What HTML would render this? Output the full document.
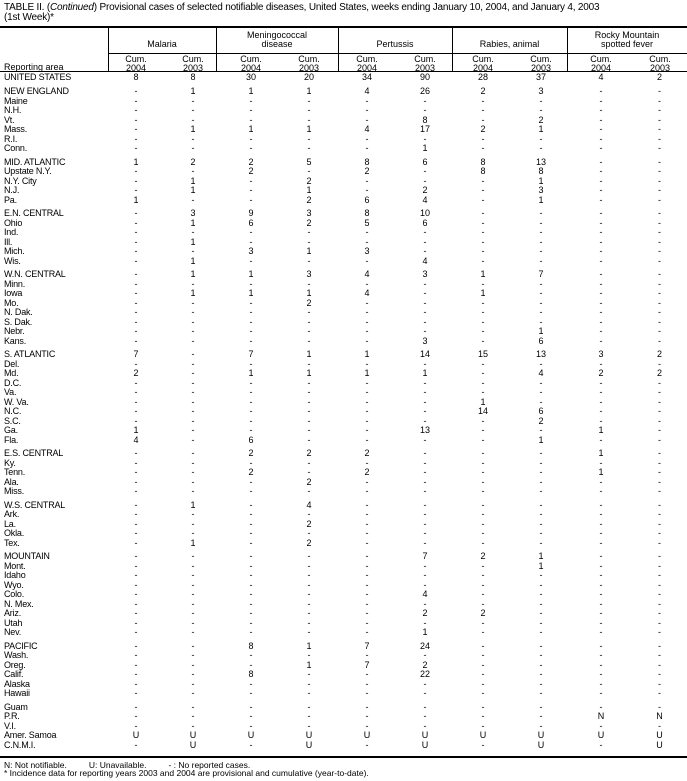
<!DOCTYPE html>
<html><head><meta charset="utf-8"><style>
*{margin:0;padding:0;box-sizing:border-box}
body{width:687px;height:781px;background:#fff;font-family:"Liberation Sans",Arial,sans-serif;color:#000;position:relative;overflow:hidden}
.t{position:absolute;left:4px;font-size:10px;line-height:10px;white-space:nowrap;letter-spacing:-0.2px}
.hl{position:absolute;background:#000}
.h{position:absolute;font-size:9px;line-height:8.5px;text-align:center;white-space:nowrap}
#rows{position:absolute;left:0;top:73px;width:687px}
.r{display:grid;grid-template-columns:108px 56px 58px 58px 58px 58px 58px 58px 58px 62px 55px;height:9.5px;line-height:9.5px;font-size:9px}
.r.g{margin-top:4px}
.r b{font-weight:normal;padding-left:4px;white-space:nowrap;letter-spacing:-0.2px}
.r i{font-style:normal;text-align:center}
.f{position:absolute;left:4px;font-size:8.5px;line-height:9px;white-space:nowrap}
</style></head><body>
<div class="t" style="top:3px">TABLE II. (<i>Continued</i>) Provisional cases of selected notifiable diseases, United States, weeks ending January 10, 2004, and January 4, 2003</div>
<div class="t" style="top:13px">(1st Week)*</div>
<div class="hl" style="left:0;top:26px;width:687px;height:2px"></div>
<div class="hl" style="left:108px;top:28px;width:1px;height:44px"></div>
<div class="hl" style="left:216px;top:28px;width:1px;height:44px"></div>
<div class="hl" style="left:338px;top:28px;width:1px;height:44px"></div>
<div class="hl" style="left:452px;top:28px;width:1px;height:44px"></div>
<div class="hl" style="left:567px;top:28px;width:1px;height:44px"></div>
<div class="hl" style="left:108px;top:53px;width:579px;height:1px"></div>
<div class="hl" style="left:0;top:71px;width:687px;height:1px"></div>
<div class="h" style="left:108px;width:108px;top:40px">Malaria</div>
<div class="h" style="left:216px;width:122px;top:31px">Meningococcal<br>disease</div>
<div class="h" style="left:338px;width:114px;top:40px">Pertussis</div>
<div class="h" style="left:452px;width:115px;top:40px">Rabies, animal</div>
<div class="h" style="left:567px;width:120px;top:31px">Rocky Mountain<br>spotted fever</div>
<div class="h" style="left:4px;top:63px;text-align:left">Reporting area</div>
<div class="h" style="left:116px;width:40px;top:55px">Cum.<br>2004</div>
<div class="h" style="left:173px;width:40px;top:55px">Cum.<br>2003</div>
<div class="h" style="left:231px;width:40px;top:55px">Cum.<br>2004</div>
<div class="h" style="left:289px;width:40px;top:55px">Cum.<br>2003</div>
<div class="h" style="left:347px;width:40px;top:55px">Cum.<br>2004</div>
<div class="h" style="left:405px;width:40px;top:55px">Cum.<br>2003</div>
<div class="h" style="left:463px;width:40px;top:55px">Cum.<br>2004</div>
<div class="h" style="left:521px;width:40px;top:55px">Cum.<br>2003</div>
<div class="h" style="left:581px;width:40px;top:55px">Cum.<br>2004</div>
<div class="h" style="left:640px;width:40px;top:55px">Cum.<br>2003</div>
<div id="rows">
<div class="r"><b>UNITED STATES</b><i>8</i><i>8</i><i>30</i><i>20</i><i>34</i><i>90</i><i>28</i><i>37</i><i>4</i><i>2</i></div>
<div class="r g" style="margin-top:4.5px"><b>NEW ENGLAND</b><i>-</i><i>1</i><i>1</i><i>1</i><i>4</i><i>26</i><i>2</i><i>3</i><i>-</i><i>-</i></div>
<div class="r"><b>Maine</b><i>-</i><i>-</i><i>-</i><i>-</i><i>-</i><i>-</i><i>-</i><i>-</i><i>-</i><i>-</i></div>
<div class="r"><b>N.H.</b><i>-</i><i>-</i><i>-</i><i>-</i><i>-</i><i>-</i><i>-</i><i>-</i><i>-</i><i>-</i></div>
<div class="r"><b>Vt.</b><i>-</i><i>-</i><i>-</i><i>-</i><i>-</i><i>8</i><i>-</i><i>2</i><i>-</i><i>-</i></div>
<div class="r"><b>Mass.</b><i>-</i><i>1</i><i>1</i><i>1</i><i>4</i><i>17</i><i>2</i><i>1</i><i>-</i><i>-</i></div>
<div class="r"><b>R.I.</b><i>-</i><i>-</i><i>-</i><i>-</i><i>-</i><i>-</i><i>-</i><i>-</i><i>-</i><i>-</i></div>
<div class="r"><b>Conn.</b><i>-</i><i>-</i><i>-</i><i>-</i><i>-</i><i>1</i><i>-</i><i>-</i><i>-</i><i>-</i></div>
<div class="r g"><b>MID. ATLANTIC</b><i>1</i><i>2</i><i>2</i><i>5</i><i>8</i><i>6</i><i>8</i><i>13</i><i>-</i><i>-</i></div>
<div class="r"><b>Upstate N.Y.</b><i>-</i><i>-</i><i>2</i><i>-</i><i>2</i><i>-</i><i>8</i><i>8</i><i>-</i><i>-</i></div>
<div class="r"><b>N.Y. City</b><i>-</i><i>1</i><i>-</i><i>2</i><i>-</i><i>-</i><i>-</i><i>1</i><i>-</i><i>-</i></div>
<div class="r"><b>N.J.</b><i>-</i><i>1</i><i>-</i><i>1</i><i>-</i><i>2</i><i>-</i><i>3</i><i>-</i><i>-</i></div>
<div class="r"><b>Pa.</b><i>1</i><i>-</i><i>-</i><i>2</i><i>6</i><i>4</i><i>-</i><i>1</i><i>-</i><i>-</i></div>
<div class="r g"><b>E.N. CENTRAL</b><i>-</i><i>3</i><i>9</i><i>3</i><i>8</i><i>10</i><i>-</i><i>-</i><i>-</i><i>-</i></div>
<div class="r"><b>Ohio</b><i>-</i><i>1</i><i>6</i><i>2</i><i>5</i><i>6</i><i>-</i><i>-</i><i>-</i><i>-</i></div>
<div class="r"><b>Ind.</b><i>-</i><i>-</i><i>-</i><i>-</i><i>-</i><i>-</i><i>-</i><i>-</i><i>-</i><i>-</i></div>
<div class="r"><b>Ill.</b><i>-</i><i>1</i><i>-</i><i>-</i><i>-</i><i>-</i><i>-</i><i>-</i><i>-</i><i>-</i></div>
<div class="r"><b>Mich.</b><i>-</i><i>-</i><i>3</i><i>1</i><i>3</i><i>-</i><i>-</i><i>-</i><i>-</i><i>-</i></div>
<div class="r"><b>Wis.</b><i>-</i><i>1</i><i>-</i><i>-</i><i>-</i><i>4</i><i>-</i><i>-</i><i>-</i><i>-</i></div>
<div class="r g"><b>W.N. CENTRAL</b><i>-</i><i>1</i><i>1</i><i>3</i><i>4</i><i>3</i><i>1</i><i>7</i><i>-</i><i>-</i></div>
<div class="r"><b>Minn.</b><i>-</i><i>-</i><i>-</i><i>-</i><i>-</i><i>-</i><i>-</i><i>-</i><i>-</i><i>-</i></div>
<div class="r"><b>Iowa</b><i>-</i><i>1</i><i>1</i><i>1</i><i>4</i><i>-</i><i>1</i><i>-</i><i>-</i><i>-</i></div>
<div class="r"><b>Mo.</b><i>-</i><i>-</i><i>-</i><i>2</i><i>-</i><i>-</i><i>-</i><i>-</i><i>-</i><i>-</i></div>
<div class="r"><b>N. Dak.</b><i>-</i><i>-</i><i>-</i><i>-</i><i>-</i><i>-</i><i>-</i><i>-</i><i>-</i><i>-</i></div>
<div class="r"><b>S. Dak.</b><i>-</i><i>-</i><i>-</i><i>-</i><i>-</i><i>-</i><i>-</i><i>-</i><i>-</i><i>-</i></div>
<div class="r"><b>Nebr.</b><i>-</i><i>-</i><i>-</i><i>-</i><i>-</i><i>-</i><i>-</i><i>1</i><i>-</i><i>-</i></div>
<div class="r"><b>Kans.</b><i>-</i><i>-</i><i>-</i><i>-</i><i>-</i><i>3</i><i>-</i><i>6</i><i>-</i><i>-</i></div>
<div class="r g"><b>S. ATLANTIC</b><i>7</i><i>-</i><i>7</i><i>1</i><i>1</i><i>14</i><i>15</i><i>13</i><i>3</i><i>2</i></div>
<div class="r"><b>Del.</b><i>-</i><i>-</i><i>-</i><i>-</i><i>-</i><i>-</i><i>-</i><i>-</i><i>-</i><i>-</i></div>
<div class="r"><b>Md.</b><i>2</i><i>-</i><i>1</i><i>1</i><i>1</i><i>1</i><i>-</i><i>4</i><i>2</i><i>2</i></div>
<div class="r"><b>D.C.</b><i>-</i><i>-</i><i>-</i><i>-</i><i>-</i><i>-</i><i>-</i><i>-</i><i>-</i><i>-</i></div>
<div class="r"><b>Va.</b><i>-</i><i>-</i><i>-</i><i>-</i><i>-</i><i>-</i><i>-</i><i>-</i><i>-</i><i>-</i></div>
<div class="r"><b>W. Va.</b><i>-</i><i>-</i><i>-</i><i>-</i><i>-</i><i>-</i><i>1</i><i>-</i><i>-</i><i>-</i></div>
<div class="r"><b>N.C.</b><i>-</i><i>-</i><i>-</i><i>-</i><i>-</i><i>-</i><i>14</i><i>6</i><i>-</i><i>-</i></div>
<div class="r"><b>S.C.</b><i>-</i><i>-</i><i>-</i><i>-</i><i>-</i><i>-</i><i>-</i><i>2</i><i>-</i><i>-</i></div>
<div class="r"><b>Ga.</b><i>1</i><i>-</i><i>-</i><i>-</i><i>-</i><i>13</i><i>-</i><i>-</i><i>1</i><i>-</i></div>
<div class="r"><b>Fla.</b><i>4</i><i>-</i><i>6</i><i>-</i><i>-</i><i>-</i><i>-</i><i>1</i><i>-</i><i>-</i></div>
<div class="r g"><b>E.S. CENTRAL</b><i>-</i><i>-</i><i>2</i><i>2</i><i>2</i><i>-</i><i>-</i><i>-</i><i>1</i><i>-</i></div>
<div class="r"><b>Ky.</b><i>-</i><i>-</i><i>-</i><i>-</i><i>-</i><i>-</i><i>-</i><i>-</i><i>-</i><i>-</i></div>
<div class="r"><b>Tenn.</b><i>-</i><i>-</i><i>2</i><i>-</i><i>2</i><i>-</i><i>-</i><i>-</i><i>1</i><i>-</i></div>
<div class="r"><b>Ala.</b><i>-</i><i>-</i><i>-</i><i>2</i><i>-</i><i>-</i><i>-</i><i>-</i><i>-</i><i>-</i></div>
<div class="r"><b>Miss.</b><i>-</i><i>-</i><i>-</i><i>-</i><i>-</i><i>-</i><i>-</i><i>-</i><i>-</i><i>-</i></div>
<div class="r g"><b>W.S. CENTRAL</b><i>-</i><i>1</i><i>-</i><i>4</i><i>-</i><i>-</i><i>-</i><i>-</i><i>-</i><i>-</i></div>
<div class="r"><b>Ark.</b><i>-</i><i>-</i><i>-</i><i>-</i><i>-</i><i>-</i><i>-</i><i>-</i><i>-</i><i>-</i></div>
<div class="r"><b>La.</b><i>-</i><i>-</i><i>-</i><i>2</i><i>-</i><i>-</i><i>-</i><i>-</i><i>-</i><i>-</i></div>
<div class="r"><b>Okla.</b><i>-</i><i>-</i><i>-</i><i>-</i><i>-</i><i>-</i><i>-</i><i>-</i><i>-</i><i>-</i></div>
<div class="r"><b>Tex.</b><i>-</i><i>1</i><i>-</i><i>2</i><i>-</i><i>-</i><i>-</i><i>-</i><i>-</i><i>-</i></div>
<div class="r g"><b>MOUNTAIN</b><i>-</i><i>-</i><i>-</i><i>-</i><i>-</i><i>7</i><i>2</i><i>1</i><i>-</i><i>-</i></div>
<div class="r"><b>Mont.</b><i>-</i><i>-</i><i>-</i><i>-</i><i>-</i><i>-</i><i>-</i><i>1</i><i>-</i><i>-</i></div>
<div class="r"><b>Idaho</b><i>-</i><i>-</i><i>-</i><i>-</i><i>-</i><i>-</i><i>-</i><i>-</i><i>-</i><i>-</i></div>
<div class="r"><b>Wyo.</b><i>-</i><i>-</i><i>-</i><i>-</i><i>-</i><i>-</i><i>-</i><i>-</i><i>-</i><i>-</i></div>
<div class="r"><b>Colo.</b><i>-</i><i>-</i><i>-</i><i>-</i><i>-</i><i>4</i><i>-</i><i>-</i><i>-</i><i>-</i></div>
<div class="r"><b>N. Mex.</b><i>-</i><i>-</i><i>-</i><i>-</i><i>-</i><i>-</i><i>-</i><i>-</i><i>-</i><i>-</i></div>
<div class="r"><b>Ariz.</b><i>-</i><i>-</i><i>-</i><i>-</i><i>-</i><i>2</i><i>2</i><i>-</i><i>-</i><i>-</i></div>
<div class="r"><b>Utah</b><i>-</i><i>-</i><i>-</i><i>-</i><i>-</i><i>-</i><i>-</i><i>-</i><i>-</i><i>-</i></div>
<div class="r"><b>Nev.</b><i>-</i><i>-</i><i>-</i><i>-</i><i>-</i><i>1</i><i>-</i><i>-</i><i>-</i><i>-</i></div>
<div class="r g"><b>PACIFIC</b><i>-</i><i>-</i><i>8</i><i>1</i><i>7</i><i>24</i><i>-</i><i>-</i><i>-</i><i>-</i></div>
<div class="r"><b>Wash.</b><i>-</i><i>-</i><i>-</i><i>-</i><i>-</i><i>-</i><i>-</i><i>-</i><i>-</i><i>-</i></div>
<div class="r"><b>Oreg.</b><i>-</i><i>-</i><i>-</i><i>1</i><i>7</i><i>2</i><i>-</i><i>-</i><i>-</i><i>-</i></div>
<div class="r"><b>Calif.</b><i>-</i><i>-</i><i>8</i><i>-</i><i>-</i><i>22</i><i>-</i><i>-</i><i>-</i><i>-</i></div>
<div class="r"><b>Alaska</b><i>-</i><i>-</i><i>-</i><i>-</i><i>-</i><i>-</i><i>-</i><i>-</i><i>-</i><i>-</i></div>
<div class="r"><b>Hawaii</b><i>-</i><i>-</i><i>-</i><i>-</i><i>-</i><i>-</i><i>-</i><i>-</i><i>-</i><i>-</i></div>
<div class="r g"><b>Guam</b><i>-</i><i>-</i><i>-</i><i>-</i><i>-</i><i>-</i><i>-</i><i>-</i><i>-</i><i>-</i></div>
<div class="r"><b>P.R.</b><i>-</i><i>-</i><i>-</i><i>-</i><i>-</i><i>-</i><i>-</i><i>-</i><i>N</i><i>N</i></div>
<div class="r"><b>V.I.</b><i>-</i><i>-</i><i>-</i><i>-</i><i>-</i><i>-</i><i>-</i><i>-</i><i>-</i><i>-</i></div>
<div class="r"><b>Amer. Samoa</b><i>U</i><i>U</i><i>U</i><i>U</i><i>U</i><i>U</i><i>U</i><i>U</i><i>U</i><i>U</i></div>
<div class="r"><b>C.N.M.I.</b><i>-</i><i>U</i><i>-</i><i>U</i><i>-</i><i>U</i><i>-</i><i>U</i><i>-</i><i>U</i></div>
</div>
<div class="hl" style="left:0;top:756px;width:687px;height:2px"></div>
<div class="f" style="top:761px">N: Not notifiable.<span style="display:inline-block;width:22px"></span>U: Unavailable.<span style="display:inline-block;width:22px"></span>- : No reported cases.</div>
<div class="f" style="top:769px">* Incidence data for reporting years 2003 and 2004 are provisional and cumulative (year-to-date).</div>
</body></html>
